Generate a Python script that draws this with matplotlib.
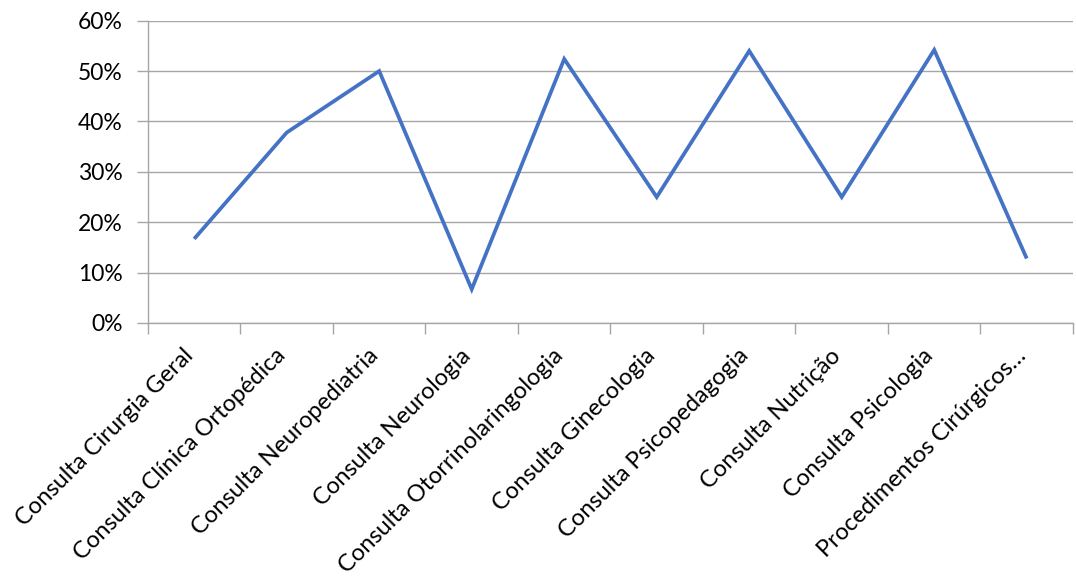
import numpy as np
import matplotlib.pyplot as plt
from matplotlib.ticker import FixedLocator, PercentFormatter
from matplotlib.transforms import offset_copy

plt.rcParams['font.family'] = ['Lato', 'DejaVu Sans']

# Categories and values (share, %)
categories = ['Consulta Cirurgia Geral', 'Consulta Clínica Ortopédica',
              'Consulta Neuropediatria', 'Consulta Neurologia',
              'Consulta Otorrinolaringologia', 'Consulta Ginecologia',
              'Consulta Psicopedagogia', 'Consulta Nutrição',
              'Consulta Psicologia', 'Procedimentos Cirúrgicos…']
values = [16.7, 37.8, 50.0, 6.7, 52.4, 25.0, 54.0, 25.0, 54.2, 12.8]

grid_color = '#A6A6A6'

fig = plt.figure(figsize=(10.76, 5.83), dpi=100)
ax = fig.add_axes([0.1375, 0.446, 0.8597, 0.5185])

x = np.arange(len(categories))
ax.plot(x, values, color='#4472C4', lw=2.7, solid_joinstyle='miter',
        solid_capstyle='butt', zorder=3)

ax.set_xlim(-0.5, len(categories) - 0.5)
ax.set_ylim(0, 60)
ax.set_yticks(np.arange(0, 61, 10))
ax.yaxis.set_major_formatter(PercentFormatter(decimals=0))
ax.grid(axis='y', color=grid_color, lw=1.0)

# category ticks sit between the categories
ax.xaxis.set_major_locator(FixedLocator(np.arange(-0.5, len(categories), 1)))
ax.xaxis.set_major_formatter(plt.NullFormatter())
ax.tick_params(axis='x', which='major', length=8, width=1, color=grid_color, direction='out')
ax.tick_params(axis='y', length=8, width=1, color=grid_color, direction='out',
               labelsize=16.5, pad=10)

# rotated category labels, right end just under each category centre
lab_tr = offset_copy(ax.get_xaxis_transform(), fig=fig, x=-12, y=-22, units='dots')
for xi, name in zip(x, categories):
    ax.text(xi, 0, name, transform=lab_tr, rotation=45, ha='right', va='top',
            rotation_mode='anchor', fontsize=17)

for side in ['top', 'right']:
    ax.spines[side].set_visible(False)
for side in ['left', 'bottom']:
    ax.spines[side].set_color(grid_color)
    ax.spines[side].set_linewidth(1.0)

fig.savefig('out.png', dpi=100)
